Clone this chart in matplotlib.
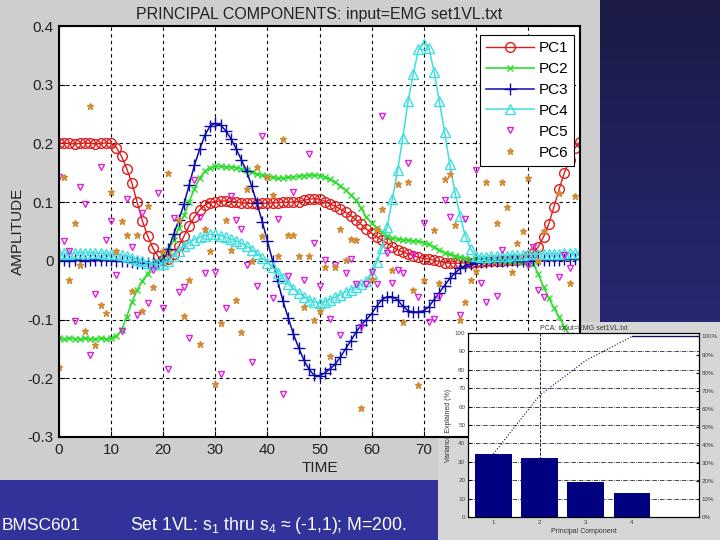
import numpy as np
import matplotlib
matplotlib.use("Agg")
import matplotlib.pyplot as plt
from matplotlib.patches import Rectangle

plt.rcParams['font.family'] = ['Liberation Sans', 'DejaVu Sans']
plt.rcParams['mathtext.default'] = 'regular'

# ---- data ----
time = list(range(101))

pc1 = [0.200, 0.201, 0.200, 0.199, 0.200, 0.201, 0.200, 0.199, 0.200, 0.201,
       0.200, 0.193, 0.178, 0.157, 0.132, 0.100, 0.068, 0.043, 0.022, 0.008,
       0.001, 0.003, 0.012, 0.025, 0.042, 0.060, 0.075, 0.087, 0.095, 0.099,
       0.101, 0.102, 0.102, 0.101, 0.100, 0.099, 0.098, 0.098, 0.097, 0.098,
       0.098, 0.099, 0.099, 0.100, 0.100, 0.100, 0.101, 0.103, 0.105, 0.106,
       0.105, 0.101, 0.097, 0.093, 0.088, 0.083, 0.077, 0.070, 0.062, 0.054,
       0.047, 0.041, 0.035, 0.030, 0.024, 0.019, 0.015, 0.012, 0.009, 0.006,
       0.004, 0.003, 0.001, -0.001, -0.003, -0.004, -0.004, -0.004, -0.003, -0.003,
       -0.002, -0.002, -0.001, -0.001, 0.000, 0.000, 0.001, 0.001, 0.002, 0.004,
       0.008, 0.014, 0.024, 0.041, 0.063, 0.092, 0.122, 0.150, 0.172, 0.192,
       0.203]

pc2 = [-0.132, -0.133, -0.132, -0.133, -0.133, -0.132, -0.133, -0.133, -0.132, -0.133,
       -0.132, -0.128, -0.118, -0.095, -0.070, -0.050, -0.034, -0.022, -0.011, -0.002,
       0.006, 0.018, 0.035, 0.056, 0.078, 0.101, 0.123, 0.141, 0.153, 0.159,
       0.161, 0.161, 0.160, 0.160, 0.159, 0.157, 0.154, 0.151, 0.148, 0.146,
       0.144, 0.142, 0.141, 0.141, 0.142, 0.143, 0.144, 0.145, 0.146, 0.146,
       0.145, 0.143, 0.139, 0.134, 0.128, 0.120, 0.112, 0.103, 0.090, 0.074,
       0.064, 0.056, 0.049, 0.043, 0.039, 0.037, 0.036, 0.035, 0.034, 0.033,
       0.031, 0.028, 0.023, 0.019, 0.014, 0.011, 0.008, 0.006, 0.005, 0.004,
       0.003, 0.002, 0.002, 0.001, 0.001, 0.000, 0.000, 0.000, -0.001, -0.002,
       -0.003, -0.005, -0.022, -0.045, -0.063, -0.080, -0.096, -0.112, -0.127, -0.141,
       -0.154]

pc3 = [0.002, 0.001, 0.000, 0.001, 0.001, 0.000, 0.001, 0.002, 0.001, 0.001,
       0.001, 0.000, 0.000, -0.001, -0.002, -0.003, -0.004, -0.004, -0.004, -0.003,
       0.002, 0.020, 0.045, 0.070, 0.097, 0.130, 0.163, 0.190, 0.214, 0.230,
       0.234, 0.231, 0.222, 0.208, 0.191, 0.172, 0.153, 0.127, 0.098, 0.067,
       0.034, 0.000, -0.035, -0.069, -0.097, -0.125, -0.148, -0.169, -0.185, -0.195,
       -0.196, -0.191, -0.184, -0.176, -0.164, -0.150, -0.136, -0.122, -0.109, -0.100,
       -0.090, -0.077, -0.066, -0.061, -0.061, -0.067, -0.077, -0.085, -0.087, -0.087,
       -0.085, -0.078, -0.066, -0.054, -0.042, -0.030, -0.021, -0.013, -0.008, -0.005,
       -0.003, -0.002, -0.002, -0.001, -0.001, 0.000, 0.000, 0.001, 0.000, -0.001,
       0.000, 0.001, 0.001, 0.001, 0.002, 0.002, 0.002, 0.003, 0.003, 0.003,
       0.004]

pc4 = [0.012, 0.013, 0.012, 0.013, 0.014, 0.013, 0.014, 0.013, 0.013, 0.012,
       0.012, 0.011, 0.010, 0.008, 0.005, 0.002, -0.001, -0.003, -0.005, -0.006,
       -0.005, 0.000, 0.008, 0.017, 0.025, 0.031, 0.036, 0.040, 0.043, 0.045,
       0.045, 0.043, 0.040, 0.037, 0.034, 0.030, 0.025, 0.019, 0.012, 0.005,
       -0.003, -0.011, -0.020, -0.030, -0.040, -0.048, -0.055, -0.061, -0.066, -0.070,
       -0.072, -0.070, -0.066, -0.062, -0.058, -0.053, -0.049, -0.045, -0.040, -0.034,
       -0.022, -0.002, 0.022, 0.058, 0.106, 0.155, 0.210, 0.272, 0.318, 0.360,
       0.370, 0.362, 0.322, 0.272, 0.220, 0.165, 0.117, 0.076, 0.042, 0.020,
       0.008, 0.006, 0.007, 0.008, 0.008, 0.009, 0.009, 0.010, 0.010, 0.010,
       0.011, 0.011, 0.011, 0.012, 0.012, 0.012, 0.012, 0.013, 0.013, 0.013,
       0.013]

pc5_t = [0, 1, 2, 3, 4, 5, 6, 7, 8, 9, 10, 11, 12, 13, 14, 15, 16, 17, 18, 19,
         20, 21, 22, 23, 24, 25, 26, 27, 28, 30, 31, 32, 33, 34, 35, 36, 37, 38, 39, 41,
         42, 43, 44, 45, 47, 48, 49, 50, 51, 52, 53, 54, 55, 56, 57, 58, 59, 60, 61, 62,
         63, 64, 65, 66, 67, 68, 69, 70, 71, 72, 73, 74, 75, 77, 78, 80, 81, 82, 84, 85,
         90, 91, 92, 93, 96, 97, 98]
pc5_y = [0.142, 0.033, 0.016, -0.102, 0.126, 0.097, -0.160, -0.056, 0.160, 0.035,
         0.068, -0.024, -0.119, 0.106, 0.024, -0.092, 0.081, -0.072, -0.016, 0.115,
         -0.081, -0.185, 0.073, -0.053, -0.045, -0.131, 0.138, 0.075, -0.021, -0.019,
         -0.193, -0.081, 0.110, 0.070, 0.055, -0.007, -0.172, -0.042, 0.213, -0.064,
         0.072, -0.227, -0.026, 0.118, -0.032, 0.182, 0.031, -0.042, 0.002, -0.099,
         -0.007, -0.127, -0.021, 0.004, -0.039, -0.112, -0.040, -0.019, -0.039, 0.247,
         0.013, -0.037, -0.016, -0.021, 0.166, 0.010, -0.061, 0.064, -0.104, -0.099,
         -0.061, 0.104, 0.075, -0.092, 0.072, 0.155, -0.038, -0.070, -0.060, 0.018,
         -0.007, 0.024, -0.050, -0.061, -0.027, 0.010, -0.013]

pc6_t = [0, 1, 2, 3, 4, 5, 6, 7, 8, 9, 10, 11, 12, 13, 14, 15, 16, 17, 18, 20,
         21, 23, 24, 25, 27, 28, 29, 30, 31, 32, 33, 34, 35, 36, 37, 38, 39, 40, 41, 42,
         43, 44, 45, 46, 47, 48, 49, 50, 51, 52, 53, 54, 55, 56, 57, 58, 60, 61, 62, 64,
         65, 66, 67, 68, 69, 70, 72, 73, 74, 75, 76, 77, 78, 79, 80, 82, 84, 85, 86, 87,
         88, 89, 90, 92, 93, 96, 98, 99]
pc6_y = [-0.180, 0.142, -0.033, 0.065, -0.007, -0.120, 0.264, -0.143, -0.075, -0.088,
         0.118, 0.017, 0.068, 0.044, -0.051, 0.044, -0.085, 0.093, -0.044, 0.016,
         0.149, 0.070, -0.094, -0.033, -0.141, 0.054, 0.017, -0.209, -0.105, 0.070,
         0.019, -0.066, -0.122, 0.122, 0.000, 0.160, 0.043, 0.143, 0.112, 0.008,
         0.207, 0.044, 0.044, 0.008, -0.079, 0.008, -0.100, -0.086, -0.010, -0.162,
         -0.010, 0.055, 0.001, 0.038, 0.035, -0.251, -0.031, 0.055, 0.088, -0.015,
         0.131, -0.104, 0.135, -0.050, -0.211, -0.033, 0.052, -0.038, 0.139, 0.148,
         0.061, -0.100, -0.070, -0.033, -0.017, 0.134, 0.064, 0.135, 0.092, -0.019,
         0.031, 0.051, 0.141, -0.001, 0.051, 0.116, -0.038, 0.110]

# inset pareto
pc_idx = [1, 2, 3, 4]
var_explained = [34.3, 31.8, 19.0, 13.0]

fig = plt.figure(figsize=(7.2, 5.4), dpi=100)

# slide background (pixel coords)
bg = fig.add_axes([0, 0, 1, 1], zorder=-5)
bg.set_xlim(0, 720)
bg.set_ylim(540, 0)
bg.axis('off')
grad = np.linspace(0, 1, 256).reshape(-1, 1)
cmap = matplotlib.colors.LinearSegmentedColormap.from_list('slide', ['#1b1b46', '#2e3190'])
bg.imshow(grad, cmap=cmap, extent=(600, 720, 540, 0), aspect='auto')
bg.add_patch(Rectangle((0, 0), 600, 480, color='#cecece', lw=0))
bg.add_patch(Rectangle((0, 480), 440, 60, color='#32339a', lw=0))
bg.add_patch(Rectangle((438, 322), 282, 218, color='#d6d6d6', lw=0))
bg.text(2, 526, 'BMSC601', color='white', fontsize=12.5, va='center', ha='left')
bg.text(130, 526, 'Set 1VL: s$_1$ thru s$_4$ \u2248 (-1,1); M=200.', color='white',
        fontsize=12.7, va='center', ha='left')

# main chart
ax = fig.add_axes([59 / 720, 1 - 437 / 540, 521 / 720, 411 / 540])
ax.set_facecolor('white')
ax.plot(time, pc1, '-o', color='#e01c1c', mfc='none', ms=7, lw=1, mew=1, label='PC1')
ax.plot(time, pc2, '-x', color='#30dd30', ms=4, lw=1.2, mew=1, label='PC2')
ax.plot(time, pc3, '-+', color='#0c0ca8', ms=8, lw=1.1, mew=1, label='PC3')
ax.plot(time, pc4, '-^', color='#40dede', mfc='none', ms=7, lw=1.1, mew=1, label='PC4')
ax.plot(pc5_t, pc5_y, 'v', color='#dd22dd', mfc='none', ms=4, mew=1, ls='none', label='PC5')
ax.plot(pc6_t, pc6_y, '*', color='#d28b34', ms=5, ls='none', label='PC6')

ax.set_xlim(0, 100)
ax.set_ylim(-0.3, 0.4)
ax.set_xticks(np.arange(0, 101, 10))
ax.set_yticks(np.arange(-0.3, 0.41, 0.1))
ax.set_yticklabels(['-0.3', '-0.2', '-0.1', '0', '0.1', '0.2', '0.3', '0.4'])
ax.tick_params(direction='in', length=4, labelsize=11, labelcolor='#222222', pad=4)
ax.grid(True, color='black', linestyle=(0, (3, 3)), lw=0.8)
for s in ax.spines.values():
    s.set_linewidth(1.5)
ax.set_title('PRINCIPAL COMPONENTS: input=EMG set1VL.txt', fontsize=11.5, color='#222222', pad=5)
ax.set_xlabel('TIME', fontsize=11, color='#222222', labelpad=3)
ax.set_ylabel('AMPLITUDE', fontsize=11, color='#222222', labelpad=2)
leg = ax.legend(loc='upper right', bbox_to_anchor=(0.9885, 0.978), borderaxespad=0,
                fontsize=11, fancybox=False, framealpha=1, edgecolor='black',
                handlelength=3.1, handletextpad=0.3, labelspacing=0.45, borderpad=0.4)
leg.get_frame().set_linewidth(0.8)

# inset pareto chart
axi = fig.add_axes([468 / 720, 1 - 517 / 540, 231 / 720, 184 / 540])
axi.bar(pc_idx, var_explained, width=0.8, color='#000080', zorder=2)
axi.set_xlim(0.45, 5.45)
axi.set_ylim(0, 100)
axi.set_xticks(pc_idx)
axi.set_yticks(range(0, 101, 10))
axi.set_axisbelow(True)
axi.grid(axis='y', color='black', linestyle='-.', lw=0.5)
axi.axvline(2, color='black', linestyle='--', lw=0.6, zorder=1)
axi.tick_params(direction='in', length=2, labelsize=4.5, labelcolor='#444444', pad=2)
axi.set_title('PCA: input=EMG set1VL.txt', fontsize=5, color='#333333', pad=2)
axi.set_xlabel('Principal Component', fontsize=5, color='#333333', labelpad=2)
axi.set_ylabel('Variance Explained (%)', fontsize=5, color='#333333', labelpad=2)

cum = np.cumsum(var_explained)
axr = axi.twinx()
axr.set_ylim(0, 100 * 100 / cum[-1])
cum_pct = cum / cum[-1] * 100
axr.plot(pc_idx, cum_pct, linestyle=':', color='#0a0a50', lw=0.8)
axr.plot([pc_idx[-1], axi.get_xlim()[1]], [cum_pct[-1], cum_pct[-1]], color='#10106a', lw=1)
axr.set_yticks(range(0, 101, 10))
axr.set_yticklabels([f'{v}%' for v in range(0, 101, 10)])
axr.tick_params(direction='in', length=2, labelsize=4.5, labelcolor='#444444', pad=2)

fig.savefig('out.png', dpi=100)
